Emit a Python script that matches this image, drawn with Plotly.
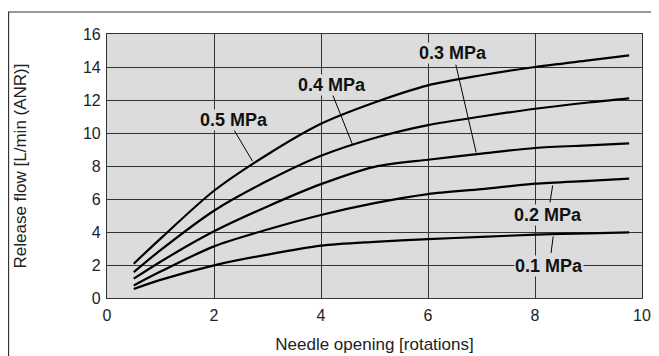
import plotly.graph_objects as go

x_vals = [0.5, 1, 2, 3, 4, 5, 6, 7, 8, 9, 9.76]
flow_05 = [2.08, 3.6, 6.5, 8.7, 10.56, 11.85, 12.89, 13.5, 14.0, 14.4, 14.7]
flow_04 = [1.57, 2.9, 5.29, 7.1, 8.62, 9.7, 10.48, 11.0, 11.47, 11.85, 12.1]
flow_03 = [1.17, 2.2, 4.04, 5.55, 6.9, 7.95, 8.38, 8.75, 9.09, 9.25, 9.37]
flow_02 = [0.76, 1.6, 3.13, 4.15, 5.03, 5.75, 6.3, 6.6, 6.93, 7.1, 7.23]
flow_01 = [0.55, 1.1, 1.98, 2.63, 3.17, 3.4, 3.57, 3.7, 3.84, 3.92, 3.98]

series = [flow_05, flow_04, flow_03, flow_02, flow_01]

labels = ["0.5 MPa", "0.4 MPa", "0.3 MPa", "0.2 MPa", "0.1 MPa"]
label_x = [2.37, 4.2, 6.47, 8.24, 8.27]
label_y = [10.8, 12.93, 14.85, 5.05, 1.96]
leader_x0 = [2.37, 4.21, 6.52, 8.28, 8.30]
leader_y0 = [10.2, 12.38, 14.14, 5.79, 2.73]
leader_x1 = [2.72, 4.59, 6.90, 8.33, 8.34]
leader_y1 = [8.29, 9.29, 8.82, 6.82, 3.73]

x_ticks = [0, 2, 4, 6, 8, 10]
y_ticks = [0, 2, 4, 6, 8, 10, 12, 14, 16]

FONT = "Liberation Sans, Arial, sans-serif"
BG = "#dcdcdc"

fig = go.Figure()
for s in series:
    fig.add_trace(go.Scatter(x=x_vals, y=s, mode="lines",
                             line=dict(color="black", width=2.2, shape="spline", smoothing=0.8),
                             showlegend=False, hoverinfo="skip"))

for i in range(len(labels)):
    fig.add_shape(type="line", xref="x", yref="y",
                  x0=leader_x0[i], y0=leader_y0[i], x1=leader_x1[i], y1=leader_y1[i],
                  line=dict(color="black", width=1))
    fig.add_annotation(x=label_x[i], y=label_y[i], text="<b>%s</b>" % labels[i],
                       showarrow=False, bgcolor=BG, borderpad=0,
                       font=dict(family=FONT, size=18, color="#111"))

# outer frame
fig.add_shape(type="rect", xref="paper", yref="paper",
              x0=-0.184, y0=-0.3, x1=1.2, y1=1.0833,
              line=dict(color="#333", width=1.2), fillcolor="rgba(0,0,0,0)", layer="below")

fig.update_layout(
    width=651, height=348,
    margin=dict(l=99, r=17, t=26, b=58),
    paper_bgcolor="white", plot_bgcolor=BG,
    font=dict(family=FONT, size=16, color="#222"),
)
fig.update_xaxes(range=[0, 10], tickvals=x_ticks, ticks="", showgrid=True,
                 gridcolor="#333", gridwidth=1, zeroline=False, automargin=False,
                 showline=True, linecolor="#333", linewidth=1.2, mirror=True,
                 ticklabelstandoff=3,
                 title=dict(text="Needle opening [rotations]", standoff=14,
                            font=dict(size=17)),
                 tickfont=dict(size=16))
fig.update_yaxes(range=[0, 16], tickvals=y_ticks, ticks="", showgrid=True,
                 gridcolor="#333", gridwidth=1, zeroline=False, automargin=False,
                 showline=True, linecolor="#333", linewidth=1.2, mirror=True,
                 ticklabelstandoff=2,
                 title=dict(text="Release flow [L/min (ANR)]", standoff=51,
                            font=dict(size=17)),
                 tickfont=dict(size=16))

fig.write_html("out.html")
